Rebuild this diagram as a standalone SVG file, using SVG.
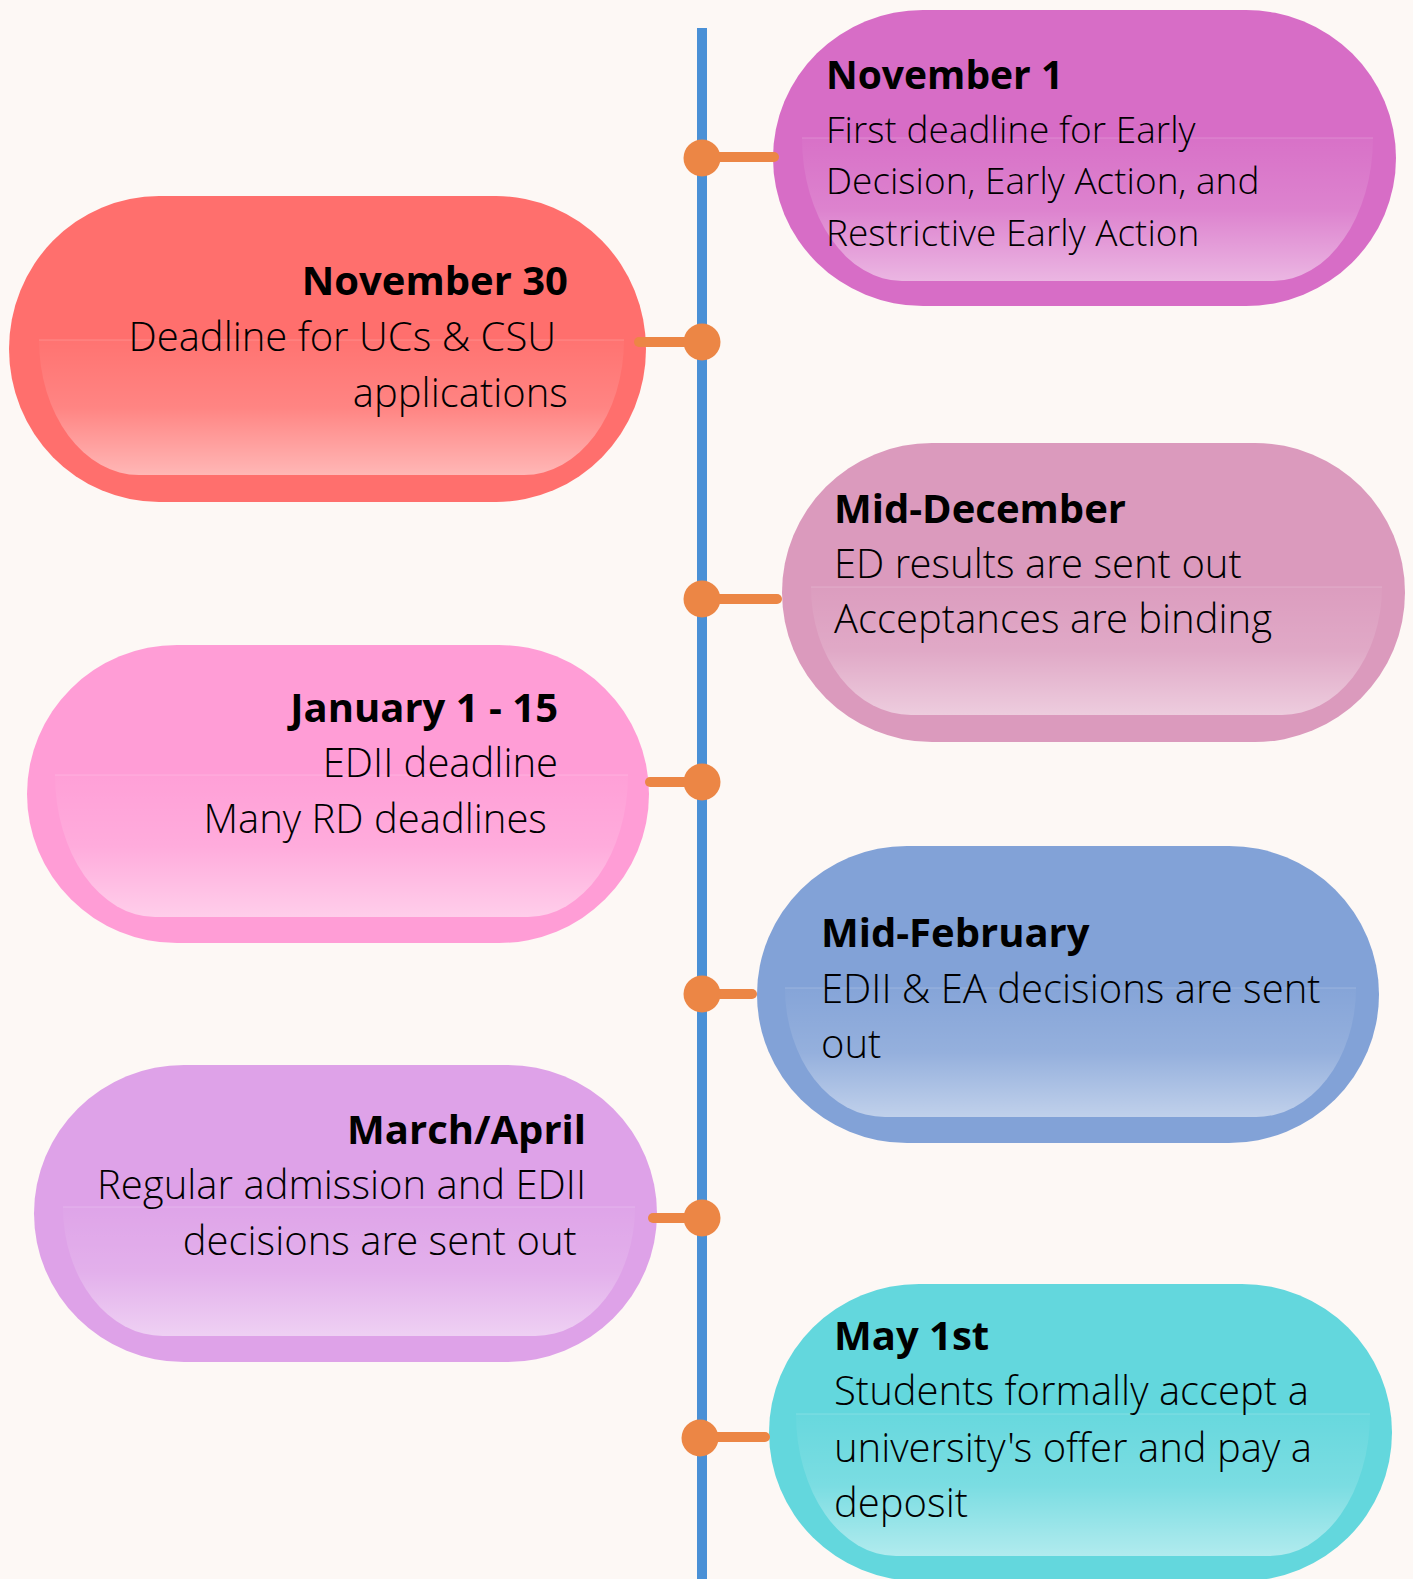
<svg xmlns="http://www.w3.org/2000/svg" width="1413" height="1579" viewBox="0 0 1413 1579">
<defs>
<linearGradient id="gl" x1="0" y1="0" x2="0" y2="1">
<stop offset="0" stop-color="#fff" stop-opacity="0.03"/>
<stop offset="0.5" stop-color="#fff" stop-opacity="0.15"/>
<stop offset="1" stop-color="#fff" stop-opacity="0.5"/>
</linearGradient>
<style>
.hl{fill:url(#gl)}
.edge{stroke:#fff;stroke-opacity:0.2;stroke-width:1}
.h{font-family:"Open Sans","Liberation Sans",sans-serif;font-weight:700;font-size:40px;fill:#000}
.b{font-family:"Open Sans Light","Open Sans","Liberation Sans",sans-serif;font-weight:300;font-size:40px;fill:#000}
.hs{font-size:39px}
.s{font-size:37px}
.r{text-anchor:end}
.stub{stroke:#EC8645;stroke-width:10;stroke-linecap:round}
.dot{fill:#EC8645}
</style>
</defs>
<rect width="1413" height="1579" fill="#FDF8F5"/>
<g id="timeline">
<rect x="697" y="28" width="10" height="1560" fill="#4A90D6"/>
</g>
<g id="nov1">
<rect x="773" y="10" width="623" height="296" rx="150" ry="148" fill="#D76DC6"/>
<path class="hl" d="M802,138 H1373 A100,143 0 0 1 1273,281 H902 A100,143 0 0 1 802,138 Z"/>
<line class="edge" x1="802" y1="138" x2="1373" y2="138"/>
<text class="h hs" x="826" y="89">November 1</text>
<text class="b s" x="826" y="143">First deadline for Early</text>
<text class="b s" x="826" y="194">Decision, Early Action, and</text>
<text class="b s" x="826" y="246">Restrictive Early Action</text>
</g>
<g id="nov30">
<rect x="9" y="196" width="637" height="306" rx="150" ry="153" fill="#FF6F6D"/>
<path class="hl" d="M39,340 H624 A100,135 0 0 1 524,475 H139 A100,135 0 0 1 39,340 Z"/>
<line class="edge" x1="39" y1="340" x2="624" y2="340"/>
<text class="h r" x="568" y="295">November 30</text>
<text class="b r" x="556" y="351">Deadline for UCs &amp; CSU</text>
<text class="b r" x="568" y="407">applications</text>
</g>
<g id="middec">
<rect x="782" y="443" width="623" height="299" rx="150" ry="149.5" fill="#DB9ABD"/>
<path class="hl" d="M811,587 H1382 A100,128 0 0 1 1282,715 H911 A100,128 0 0 1 811,587 Z"/>
<line class="edge" x1="811" y1="587" x2="1382" y2="587"/>
<text class="h" x="834" y="523">Mid-December</text>
<text class="b" x="834" y="578">ED results are sent out</text>
<text class="b" x="834" y="633">Acceptances are binding</text>
</g>
<g id="jan">
<rect x="27" y="645" width="622" height="298" rx="150" ry="149" fill="#FF9DD6"/>
<path class="hl" d="M55,775 H628 A100,142 0 0 1 528,917 H155 A100,142 0 0 1 55,775 Z"/>
<line class="edge" x1="55" y1="775" x2="628" y2="775"/>
<text class="h r" x="558" y="722">January 1 - 15</text>
<text class="b r" x="558" y="777">EDII deadline</text>
<text class="b r" x="547" y="833">Many RD deadlines</text>
</g>
<g id="midfeb">
<rect x="757" y="846" width="622" height="297" rx="150" ry="148.5" fill="#82A2D7"/>
<path class="hl" d="M785,988 H1356 A100,129 0 0 1 1256,1117 H885 A100,129 0 0 1 785,988 Z"/>
<line class="edge" x1="785" y1="988" x2="1356" y2="988"/>
<text class="h" x="821" y="947">Mid-February</text>
<text class="b" x="821" y="1003">EDII &amp; EA decisions are sent</text>
<text class="b" x="821" y="1058">out</text>
</g>
<g id="marapr">
<rect x="34" y="1065" width="623" height="297" rx="150" ry="148.5" fill="#DEA2E8"/>
<path class="hl" d="M63,1207 H635 A100,129 0 0 1 535,1336 H163 A100,129 0 0 1 63,1207 Z"/>
<line class="edge" x1="63" y1="1207" x2="635" y2="1207"/>
<text class="h r" x="586" y="1144">March/April</text>
<text class="b r" x="586" y="1199">Regular admission and EDII</text>
<text class="b r" x="577" y="1255">decisions are sent out</text>
</g>
<g id="may1">
<rect x="769" y="1284" width="623" height="297" rx="150" ry="148.5" fill="#63D7DD"/>
<path class="hl" d="M796,1414 H1370 A100,142 0 0 1 1270,1556 H896 A100,142 0 0 1 796,1414 Z"/>
<line class="edge" x1="796" y1="1414" x2="1370" y2="1414"/>
<text class="h" x="834" y="1350">May 1st</text>
<text class="b" x="834" y="1405">Students formally accept a</text>
<text class="b" x="834" y="1462">university's offer and pay a</text>
<text class="b" x="834" y="1517">deposit</text>
</g>
<g id="connectors">
<line class="stub" x1="703" y1="157" x2="774" y2="157"/>
<circle class="dot" cx="702" cy="158" r="18.5"/>
<line class="stub" x1="639" y1="342" x2="702" y2="342"/>
<circle class="dot" cx="702" cy="342" r="18.5"/>
<line class="stub" x1="702" y1="599" x2="777" y2="599"/>
<circle class="dot" cx="702" cy="599" r="18.5"/>
<line class="stub" x1="650" y1="782" x2="702" y2="782"/>
<circle class="dot" cx="702" cy="782" r="18.5"/>
<line class="stub" x1="702" y1="994" x2="752" y2="994"/>
<circle class="dot" cx="702" cy="994" r="18.5"/>
<line class="stub" x1="653" y1="1218" x2="702" y2="1218"/>
<circle class="dot" cx="702" cy="1218" r="18.5"/>
<line class="stub" x1="700" y1="1437" x2="765" y2="1437"/>
<circle class="dot" cx="700" cy="1438" r="18.5"/>
</g>
</svg>
